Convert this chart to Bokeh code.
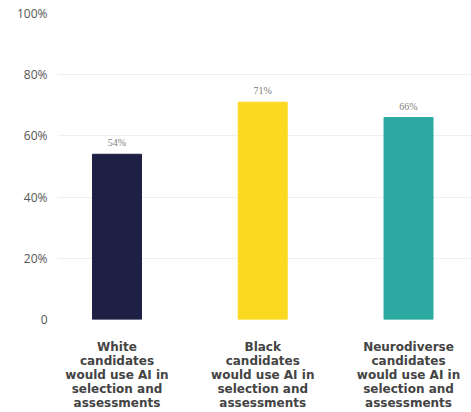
from bokeh.plotting import figure
from bokeh.models import ColumnDataSource, FixedTicker, Range1d, LabelSet
from bokeh.embed import file_html
from bokeh.resources import INLINE

# Share of candidates who would use AI in selection and assessments
groups = ["White", "Black", "Neurodiverse"]
shares = [54, 71, 66]
bar_colors = ["#1d1f45", "#fbd920", "#2ca9a0"]
value_labels = ["54%", "71%", "66%"]
y_ticks = [0, 20, 40, 60, 80, 100]
y_tick_labels = ["0", "20%", "40%", "60%", "80%", "100%"]

positions = list(range(len(groups)))
category_labels = [
    f"{g}\ncandidates\nwould use AI in\nselection and\nassessments" for g in groups
]

source = ColumnDataSource(dict(
    x=positions, top=shares, color=bar_colors, label=value_labels,
))

p = figure(
    width=471, height=412,
    x_range=Range1d(-0.408, 2.432), y_range=Range1d(0, 100),
    output_backend="svg", toolbar_location=None,
    min_border_left=57, min_border_right=0,
    min_border_top=13, min_border_bottom=92,
)
p.outline_line_color = None
p.background_fill_color = "white"
p.border_fill_color = "white"

p.vbar(x="x", top="top", width=0.336, color="color", source=source)

labels = LabelSet(
    x="x", y="top", text="label", source=source,
    text_align="center", text_baseline="bottom", y_offset=6,
    text_font="Open Sans", text_font_size="10px",
    text_color="#808080",
)
p.add_layout(labels)

# y axis: percentage ticks, no line or tick marks
p.yaxis.ticker = FixedTicker(ticks=y_ticks)
p.yaxis.major_label_overrides = {t: l for t, l in zip(y_ticks, y_tick_labels)}
p.yaxis.axis_line_color = None
p.yaxis.major_tick_line_color = None
p.yaxis.minor_tick_line_color = None
p.yaxis.major_label_standoff = 4
p.yaxis.major_label_text_font = "Open Sans"
p.yaxis.major_label_text_font_size = "12px"
p.yaxis.major_label_text_color = "#555555"

# x axis: multi-line category labels
p.xaxis.ticker = FixedTicker(ticks=positions)
p.xaxis.major_label_overrides = {i: l for i, l in zip(positions, category_labels)}
p.xaxis.axis_line_color = None
p.xaxis.major_tick_line_color = None
p.xaxis.minor_tick_line_color = None
p.xaxis.major_tick_out = 0
p.xaxis.major_label_standoff = 20
p.xaxis.major_label_text_font = "DejaVu Sans"
p.xaxis.major_label_text_font_style = "bold"
p.xaxis.major_label_text_font_size = "12px"
p.xaxis.major_label_text_color = "#444444"
p.xaxis.major_label_text_line_height = 1.0

p.xgrid.grid_line_color = None
p.ygrid.ticker = FixedTicker(ticks=y_ticks)
p.ygrid.grid_line_color = "#efefef"
p.ygrid.grid_line_width = 1

open("out.html", "w").write(file_html(p, INLINE))
